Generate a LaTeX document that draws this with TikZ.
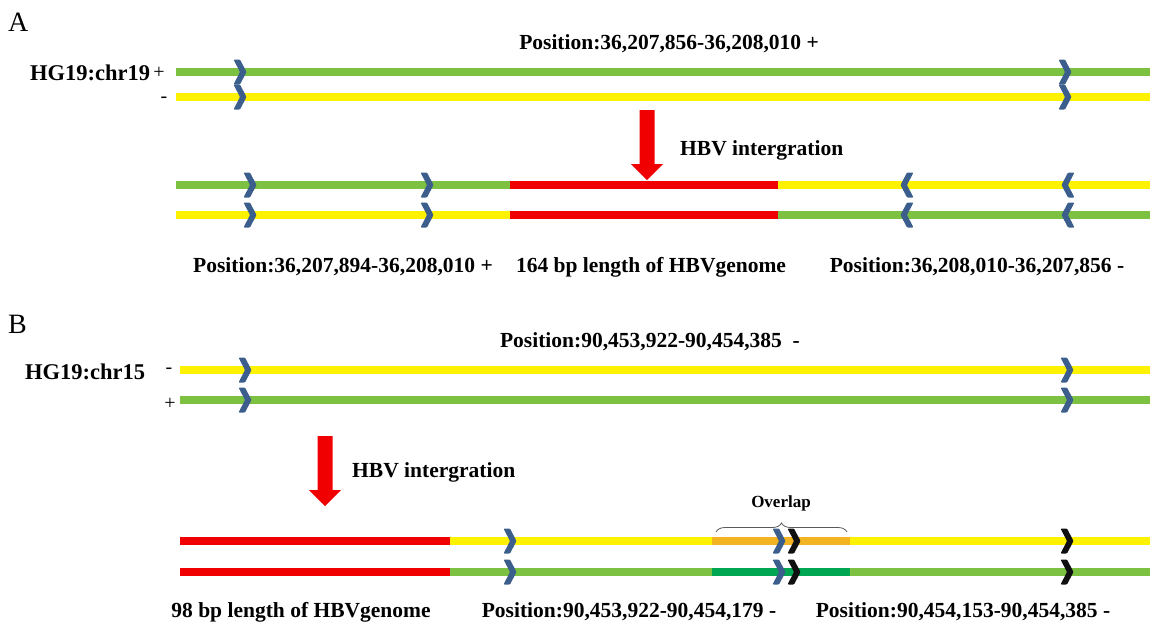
\documentclass[tikz,border=0pt]{standalone}
\usepackage{fontspec}
\setmainfont{Liberation Serif}
\usetikzlibrary{decorations.pathreplacing}

\definecolor{sgreen}{HTML}{7DC142}
\definecolor{syellow}{HTML}{FFF200}
\definecolor{sred}{HTML}{F00000}
\definecolor{sorange}{HTML}{F2B422}
\definecolor{sdarkgreen}{HTML}{00A651}
\definecolor{chevblue}{HTML}{3B5E8C}
\definecolor{chevblack}{HTML}{101010}

\tikzset{
  strand/.style={line width=8pt},
  lbl/.style={font=\fontsize{21.5}{24}\selectfont\bfseries, inner sep=0pt, anchor=base},
  chrlbl/.style={font=\fontsize{22.5}{26}\selectfont\bfseries, inner sep=0pt, anchor=base west},
  sign/.style={font=\fontsize{20}{24}\selectfont, inner sep=0pt},
  panel/.style={font=\fontsize{28}{30}\selectfont, inner sep=0pt, anchor=base west},
  chev/.pic={\fill[chevblue, rounded corners=1pt]
    (-6.5,-12.5) -- (0,-12.5) -- (6.5,0) -- (0,12.5) -- (-6.5,12.5) -- (0,0) -- cycle;},
  chevk/.pic={\fill[chevblack, rounded corners=1pt]
    (-6.5,-12.5) -- (0,-12.5) -- (6.5,0) -- (0,12.5) -- (-6.5,12.5) -- (0,0) -- cycle;},
  downarrow/.pic={\fill[sred] (-7.5,0) -- (7.5,0) -- (7.5,54) -- (16,54) -- (0,70) -- (-16,54) -- (-7.5,54) -- cycle;}
}

\begin{document}
\begin{tikzpicture}[x=1pt,y=-1pt]
  \useasboundingbox (0,0) rectangle (1157,625);

  % panel A
  \node[panel] (A) at (8,31) {A};
  \node[lbl] (posA) at (669,49) {Position:36,207,856-36,208,010 +};
  \node[chrlbl] (chr19) at (30,80) {HG19:chr19};
  \node[sign] (plusA) at (159,73) {+};
  \node[sign] (minusA) at (164,100) {-};

  \draw[strand, sgreen] (176,72) -- (1150,72);
  \draw[strand, syellow] (176,97) -- (1150,97);
  \foreach \y in {72,97} {
    \pic at (240,\y) {chev};
    \pic at (1065,\y) {chev};
  }

  \pic at (647,110) {downarrow};
  \node[lbl, anchor=base west] (hbvA) at (680,155) {HBV intergration};

  \draw[strand, sgreen] (176,185) -- (510,185);
  \draw[strand, sred] (510,185) -- (778,185);
  \draw[strand, syellow] (778,185) -- (1150,185);
  \draw[strand, syellow] (176,215) -- (510,215);
  \draw[strand, sred] (510,215) -- (778,215);
  \draw[strand, sgreen] (778,215) -- (1150,215);
  \foreach \y in {185,215} {
    \pic at (250,\y) {chev};
    \pic at (427,\y) {chev};
    \pic[xscale=-1] at (907,\y) {chev};
    \pic[xscale=-1] at (1068,\y) {chev};
  }

  \node[lbl] (posA1) at (343,272) {Position:36,207,894-36,208,010 +};
  \node[lbl] (lenA) at (651,272) {164 bp length of HBVgenome};
  \node[lbl] (posA2) at (977,272) {Position:36,208,010-36,207,856 -};

  % panel B
  \node[panel] (B) at (8,333) {B};
  \node[lbl] (posB) at (650,347) {Position:90,453,922-90,454,385\ \ -};
  \node[chrlbl] (chr15) at (25,379) {HG19:chr15};
  \node[sign] (minusB) at (169,371) {-};
  \node[sign] (plusB) at (170,404) {+};

  \draw[strand, syellow] (180,370) -- (1150,370);
  \draw[strand, sgreen] (180,400) -- (1150,400);
  \foreach \y in {370,400} {
    \pic at (245,\y) {chev};
    \pic at (1067,\y) {chev};
  }

  \pic at (325,436) {downarrow};
  \node[lbl, anchor=base west] (hbvB) at (352,477) {HBV intergration};

  \draw[strand, sred] (180,541) -- (450,541);
  \draw[strand, syellow] (450,541) -- (712,541);
  \draw[strand, sorange] (712,541) -- (850,541);
  \draw[strand, syellow] (850,541) -- (1150,541);
  \draw[strand, sred] (180,572) -- (450,572);
  \draw[strand, sgreen] (450,572) -- (712,572);
  \draw[strand, sdarkgreen] (712,572) -- (850,572);
  \draw[strand, sgreen] (850,572) -- (1150,572);
  \foreach \y in {541,572} {
    \pic at (510,\y) {chev};
    \pic at (779,\y) {chev};
    \pic at (794,\y) {chevk};
    \pic at (1067,\y) {chevk};
  }

  \coordinate (ovL) at (716,532);
  \coordinate (ovR) at (847,532);
  \draw[gray!70!black, line width=0.8pt, decorate, decoration={brace, amplitude=9pt}]
    (ovL) -- (ovR);
  \node[font=\fontsize{17}{20}\selectfont\bfseries, inner sep=0pt] (overlap) at (781,503) {Overlap};

  \node[lbl] (lenB) at (301,617) {98 bp length of HBVgenome};
  \node[lbl] (posB1) at (629,617) {Position:90,453,922-90,454,179 -};
  \node[lbl] (posB2) at (963,617) {Position:90,454,153-90,454,385 -};
\end{tikzpicture}
\end{document}
